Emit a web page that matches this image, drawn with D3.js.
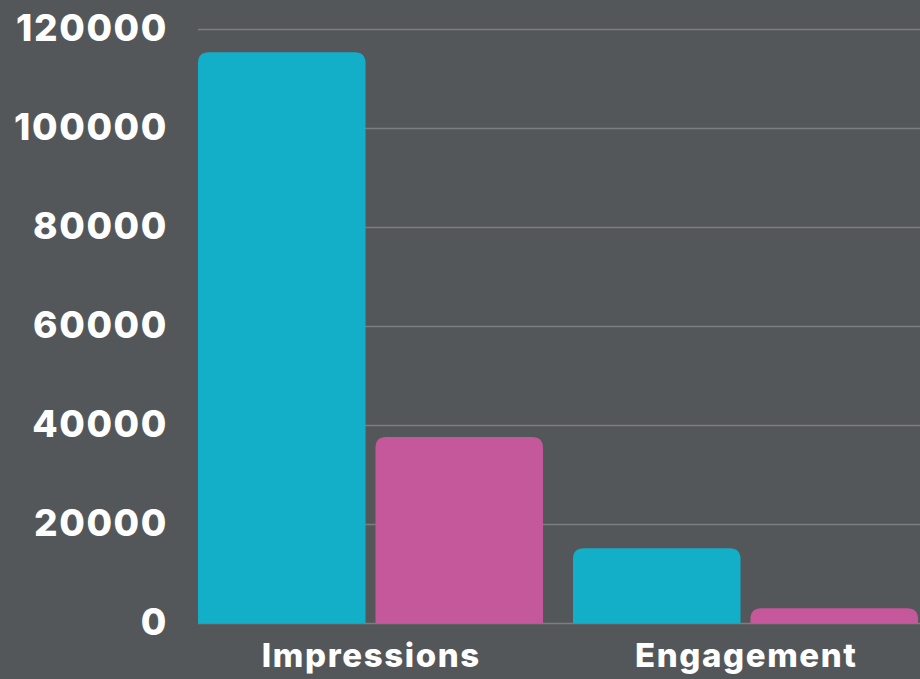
<!DOCTYPE html>
<html><head><meta charset="utf-8">
<script src="https://cdn.jsdelivr.net/npm/d3@7"></script>
<style>html,body{margin:0;padding:0;background:#54575a;overflow:hidden}</style>
</head><body>
<script>
const categories = ["Impressions", "Engagement"];
const seriesNames = ["Series A", "Series B"];
const seriesA = [115300, 15100];
const seriesB = [37600, 3000];
const yTicks = [0, 20000, 40000, 60000, 80000, 100000, 120000];
const colors = ["#13aec8", "#c5589a"];

const W = 920, H = 679;
const svg = d3.select("body").append("svg").attr("width", W).attr("height", H)
  .style("background", "#54575a").style("display","block");

const y = d3.scaleLinear().domain([0, 120000]).range([623, 29]);
const x0 = d3.scaleBand().domain(categories).range([183, 933]).paddingInner(0.08).paddingOuter(0.04);
const x1 = d3.scaleBand().domain(seriesNames).range([0, x0.bandwidth()]).paddingInner(0.056);

// gridlines
const yAxis = d3.axisLeft(y).tickValues(yTicks).tickSize(-(W - 198)).tickPadding(30).tickFormat(d3.format("d"));
const gA = svg.append("g").attr("transform", "translate(198,0)").call(yAxis);
gA.select(".domain").remove();
gA.selectAll(".tick line").attr("stroke", "#7b7e81").attr("stroke-width", 1.5);
gA.selectAll(".tick text").attr("fill", "#ffffff")
  .style("font-family", "Inter").style("font-weight", 800).style("font-size", "37px")
  .style("letter-spacing", "1.6px");

const rows = categories.map((c, i) => ({cat: c, vals: [seriesA[i], seriesB[i]]}));
function roundTop(x, yTop, w, yBot, r) {
  r = Math.min(r, (yBot - yTop), w / 2);
  return `M${x},${yBot}V${yTop + r}Q${x},${yTop} ${x + r},${yTop}H${x + w - r}Q${x + w},${yTop} ${x + w},${yTop + r}V${yBot}Z`;
}
const g = svg.append("g");
rows.forEach(row => {
  row.vals.forEach((v, j) => {
    const bx = x0(row.cat) + x1(seriesNames[j]);
    g.append("path")
      .attr("d", roundTop(bx, y(v), x1.bandwidth(), y(0), 11))
      .attr("fill", colors[j]);
  });
});

const xAxis = d3.axisBottom(x0).tickSize(0).tickPadding(21);
const gX = svg.append("g").attr("transform", "translate(0,623)").call(xAxis);
gX.select(".domain").remove();
gX.selectAll(".tick text").attr("fill", "#ffffff").attr("dx", "0.8px")
  .style("font-family", "Inter").style("font-weight", 800).style("font-size", "33px")
  .style("letter-spacing", "1.6px");
</script>
</body></html>
